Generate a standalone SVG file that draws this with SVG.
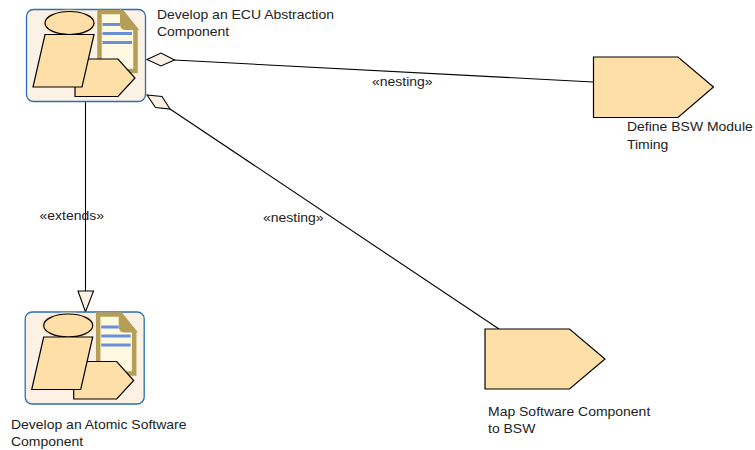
<svg xmlns="http://www.w3.org/2000/svg" width="755" height="450" viewBox="0 0 755 450">
<style>
text{font-family:"Liberation Sans",Arial,sans-serif;font-size:12px;fill:#222}
.box{fill:#fbf1e4;stroke:#2a6fb0;stroke-width:1.3}
.s{fill:#fedfa8;stroke:#000;stroke-width:1.2}
.doc{fill:#fff9e2;stroke:#b59e56;stroke-width:4.5}
.fold{fill:#b59e56;stroke:#b59e56;stroke-width:2}
.bar{stroke:#6a8fd8;stroke-width:3;fill:none}
.c{fill:none;stroke:#000;stroke-width:1.1}
.d{fill:#fbf1e4;stroke:#000;stroke-width:1.1}
</style>
<defs>
<g id="icon">
<rect class="box" x="26.500" y="9.500" width="119" height="92" rx="7"/>
<ellipse cx="69.500" cy="23" rx="27" ry="13.500" fill="#fedfa8" opacity=".6"/>
<path class="doc" d="M99.500 12H122L135.500 29V71H99.500Z"/>
<path class="fold" d="M121 11L137 29H126Q121 29 121 24Z"/>
<path class="bar" d="M102.500 24.500H120M102.500 33.500H132M102.500 42.500H132"/>
<ellipse class="s" cx="69.500" cy="23" rx="24.500" ry="11.500"/>
<path class="s" d="M75 96.500V59H118L135 78L118 96.500Z"/>
<path class="s" d="M45 34.500H94L82 87H33Z"/>
</g>
</defs>
<g id="connectors">
<path class="c" d="M174 60L593 82"/>
<path class="c" d="M170 109L499 329"/>
<path class="c" d="M85.500 102V291"/>
<path class="d" d="M147 59.500L161 53L174.500 60L161 66Z"/>
<path class="d" d="M147 95L162 96.500L170 109L155.500 107.500Z"/>
<path class="d" d="M78 291H93.500L85.500 312Z"/>
<text transform="translate(372 86) scale(1.165 1)">«nesting»</text>
<text transform="translate(263 222) scale(1.165 1)">«nesting»</text>
<text transform="translate(39.500 220) scale(1.165 1)">«extends»</text>
</g>
<g id="node-ecu">
<use href="#icon"/>
<text transform="translate(157 19) scale(1.165 1)">Develop an ECU Abstraction</text>
<text transform="translate(157 36) scale(1.165 1)">Component</text>
</g>
<g id="node-atomic">
<use href="#icon" x="-1.300" y="302.500"/>
<text transform="translate(11 429) scale(1.165 1)">Develop an Atomic Software</text>
<text transform="translate(11 446) scale(1.165 1)">Component</text>
</g>
<g id="node-timing">
<path class="s" d="M593.500 57H678L713.500 87L678 117.500H593.500Z"/>
<text transform="translate(627 131) scale(1.165 1)">Define BSW Module</text>
<text transform="translate(627 149) scale(1.165 1)">Timing</text>
</g>
<g id="node-map">
<path class="s" d="M485 329H569.500L605 359L569.500 389H485Z"/>
<text transform="translate(488 416) scale(1.165 1)">Map Software Component</text>
<text transform="translate(488 433) scale(1.165 1)">to BSW</text>
</g>
</svg>
